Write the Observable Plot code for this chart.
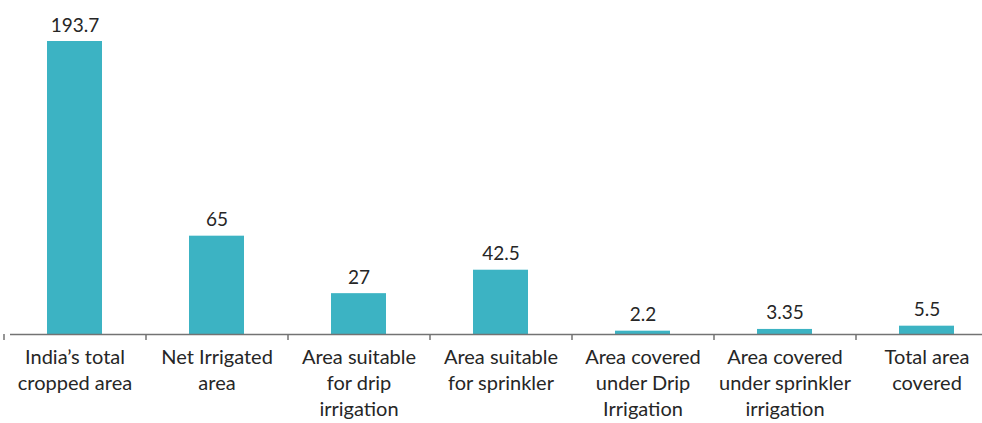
<!DOCTYPE html>
<html>
<head>
<meta charset="utf-8">
<script src="https://cdn.jsdelivr.net/npm/d3@7"></script>
<script src="https://cdn.jsdelivr.net/npm/@observablehq/plot@0.6"></script>
<style>
  html, body { margin: 0; padding: 0; background: #fff; }
  #chart svg { display: block; }
</style>
</head>
<body>
<div id="chart"></div>
<script>
const categories = [
  "India’s total\ncropped area",
  "Net Irrigated\narea",
  "Area suitable\nfor drip\nirrigation",
  "Area suitable\nfor sprinkler",
  "Area covered\nunder Drip\nIrrigation",
  "Area covered\nunder sprinkler\nirrigation",
  "Total area\ncovered"
];
const values = [193.7, 65, 27, 42.5, 2.2, 3.35, 5.5];
const valueLabels = ["193.7", "65", "27", "42.5", "2.2", "3.35", "5.5"];

const data = categories.map((c, i) => ({category: c, value: values[i], label: valueLabels[i]}));

const xRange = [3, 997];
const step = (xRange[1] - xRange[0]) / categories.length;
const font = "Lato, 'Open Sans', sans-serif";

const chart = Plot.plot({
  width: 982,
  height: 423,
  marginTop: 0,
  marginLeft: 10,
  marginRight: 0,
  marginBottom: 89,
  style: {fontFamily: font, background: "#fff"},
  x: {domain: categories, range: xRange, paddingInner: 0.613, paddingOuter: 0.3065, axis: null},
  y: {domain: [0, 193.7], range: [334, 41], axis: null},
  marks: [
    Plot.barY(data, {x: "category", y: "value", fill: "#3CB3C3"}),
    Plot.ruleY([0], {stroke: "#737373", strokeWidth: 1.5}),
    Plot.ruleX(categories, {x: d => d, y1: 0, y2: 0, dx: -step / 2, insetBottom: -6, stroke: "#737373", strokeWidth: 1.5}),
    Plot.text(data, {x: "category", y: "value", text: "label", dy: -10, lineAnchor: "bottom", fontSize: 19, fill: "#262626"}),
    Plot.text(data, {x: "category", y: 0, text: "category", lineAnchor: "top", dy: 11, fontSize: 20, lineHeight: 1.3, fill: "#262626"})
  ]
});
document.getElementById("chart").append(chart);
</script>
</body>
</html>
